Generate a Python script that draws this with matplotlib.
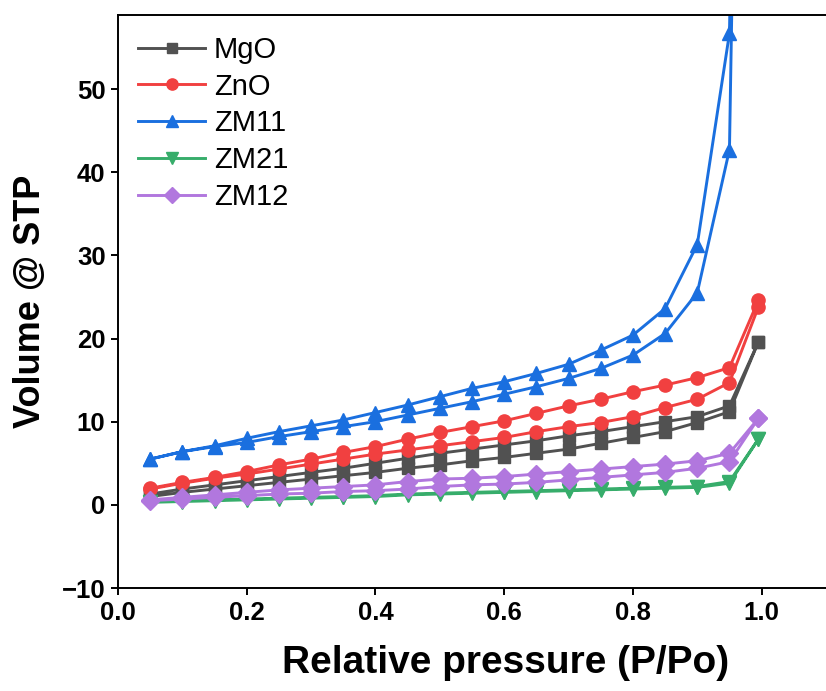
import numpy as np
import matplotlib
matplotlib.use("Agg")
import matplotlib.pyplot as plt

plt.rcParams['font.family'] = ['Liberation Sans', 'DejaVu Sans']

# presion relativa (adsorcion); la desorcion recorre los mismos puntos al reves
p_rel = [0.05, 0.10, 0.15, 0.20, 0.25, 0.30, 0.35, 0.40, 0.45, 0.50,
         0.55, 0.60, 0.65, 0.70, 0.75, 0.80, 0.85, 0.90, 0.95, 0.995]

labels = ['MgO', 'ZnO', 'ZM11', 'ZM21', 'ZM12']

mgo_ads = [1.0, 1.5, 1.9, 2.3, 2.7, 3.1, 3.5, 3.9, 4.4, 4.8,
           5.3, 5.7, 6.2, 6.7, 7.4, 8.1, 8.8, 9.9, 11.2, 19.6]
mgo_des = [1.3, 1.9, 2.4, 2.9, 3.4, 3.9, 4.4, 5.0, 5.6, 6.2,
           6.7, 7.2, 7.7, 8.3, 8.8, 9.4, 10.0, 10.6, 11.9, 19.6]

zno_ads = [1.9, 2.6, 3.2, 3.7, 4.3, 4.9, 5.5, 6.1, 6.6, 7.1,
           7.6, 8.1, 8.8, 9.4, 9.9, 10.6, 11.7, 12.7, 14.7, 23.8]
zno_des = [2.0, 2.7, 3.3, 4.0, 4.8, 5.5, 6.3, 7.0, 7.9, 8.7,
           9.4, 10.1, 11.0, 11.9, 12.7, 13.6, 14.4, 15.3, 16.5, 24.6]

zm11_ads = [5.5, 6.4, 7.0, 7.5, 8.2, 8.8, 9.4, 10.0, 10.8, 11.6,
            12.4, 13.3, 14.2, 15.2, 16.4, 18.0, 20.6, 25.5, 42.7, 250.0]
zm11_des = [5.5, 6.4, 7.1, 8.0, 8.8, 9.5, 10.2, 11.1, 12.0, 13.0,
            14.0, 14.8, 15.8, 16.9, 18.6, 20.4, 23.6, 31.3, 56.7, 250.0]

zm21_ads = [0.3, 0.4, 0.5, 0.6, 0.7, 0.8, 0.9, 1.0, 1.2, 1.3,
            1.4, 1.5, 1.6, 1.7, 1.8, 1.9, 2.0, 2.1, 2.6, 7.9]
zm21_des = [0.4, 0.5, 0.6, 0.7, 0.8, 0.9, 1.0, 1.1, 1.3, 1.4,
            1.5, 1.6, 1.7, 1.8, 1.9, 2.0, 2.1, 2.2, 2.8, 7.9]

zm12_ads = [0.5, 0.7, 0.9, 1.1, 1.3, 1.4, 1.6, 1.7, 1.9, 2.2,
            2.4, 2.5, 2.7, 3.0, 3.3, 3.6, 3.9, 4.4, 5.2, 10.4]
zm12_des = [0.6, 0.9, 1.2, 1.5, 1.8, 2.0, 2.2, 2.4, 2.8, 3.1,
            3.2, 3.4, 3.7, 4.0, 4.3, 4.6, 4.9, 5.3, 6.2, 10.4]

colores = ['#515151', '#F14040', '#1A6FDF', '#37AD6B', '#B177DE']
marcadores = ['s', 'o', '^', 'v', 'D']
tamanos = [9, 9.5, 10.5, 10.5, 9]

series = [(mgo_ads, mgo_des), (zno_ads, zno_des), (zm11_ads, zm11_des),
          (zm21_ads, zm21_des), (zm12_ads, zm12_des)]

fig = plt.figure(figsize=(8.26, 6.91), dpi=100)
ax = fig.add_axes([118 / 826, 1 - 588 / 691, 1 - 118 / 826, (588 - 15) / 691])

for i in range(len(series)):
    ads, des = series[i]
    x = p_rel + p_rel[::-1]
    y = ads + des[::-1]
    ax.plot(x, y, color=colores[i], marker=marcadores[i], markersize=tamanos[i],
            linewidth=2.1, label=labels[i])

ax.set_xlim(0, 1.1)
ax.set_ylim(-10, 58.9)
ax.set_xticks([0.0, 0.2, 0.4, 0.6, 0.8, 1.0])
ax.set_yticks([-10, 0, 10, 20, 30, 40, 50])
ax.set_xticklabels(['0.0', '0.2', '0.4', '0.6', '0.8', '1.0'])
ax.set_yticklabels(['\u221210', '0', '10', '20', '30', '40', '50'])

ax.spines['right'].set_visible(False)
for s in ['left', 'bottom', 'top']:
    ax.spines[s].set_linewidth(1.4)

ax.tick_params(direction='out', length=5, width=1.4, labelsize=18.5, pad=4)
for t in ax.get_xticklabels() + ax.get_yticklabels():
    t.set_fontweight('bold')
ax.tick_params(top=False, right=False)

ax.set_xlabel('Relative pressure (P/Po)', fontsize=28, fontweight='bold')
ax.xaxis.set_label_coords((506 - 118) / (826 - 118), -0.1)
ax.set_ylabel('Volume @ STP', fontsize=26, fontweight='bold', labelpad=10)

ax.legend(loc='upper left', frameon=False, fontsize=21, handlelength=2.3,
          handletextpad=0.3, labelspacing=0.3, markerscale=0.85,
          borderaxespad=0.0, bbox_to_anchor=(0.012, 0.984))

fig.savefig('out.png', dpi=100)
